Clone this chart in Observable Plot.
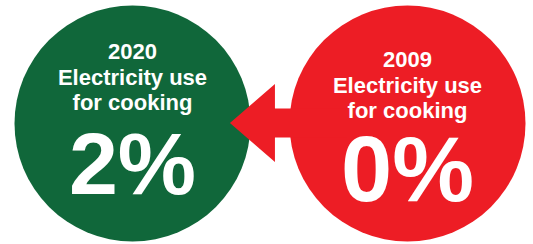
<!DOCTYPE html>
<html>
<head>
<meta charset="utf-8">
<script src="https://cdn.jsdelivr.net/npm/d3@7"></script>
<script src="https://cdn.jsdelivr.net/npm/@observablehq/plot@0.6"></script>
<style>
  html, body { margin: 0; padding: 0; background: #ffffff; }
  #chart svg { display: block; }
</style>
</head>
<body>
<div id="chart"></div>
<script>
// ---- data ----
const years = ["2020", "2009"];
const headlines = ["Electricity use", "for cooking"];
const shares = [2, 0];                 // % of households using electricity for cooking
const colors = ["#10673a", "#ed1d25"];

const rows = years.map((year, i) => ({
  year,
  header: [year, ...headlines].join("\n"),
  value: `${shares[i]}%`,
  color: colors[i]
}));

// ---- layout ----
const W = 533, H = 244, R = 118;
const font = "'Liberation Sans', Arial, Helvetica, sans-serif";
const headerDy = [-46, -38];
const valueDy = [43, 49];
const valueSize = [88, 92];

// arrow from the 2009 circle towards the 2020 circle
function arrowMark(index, scales, values, dims) {
  const x0 = scales.x(years[0]);
  const x1 = scales.x(years[1]);
  const cy = dims.height / 2 + 1;
  const tip = x0 + R * 0.83;
  const back = tip + 45;
  const end = x1 - 60;
  const hh = 39, sh = 14.5;
  const d = `M${tip},${cy} L${back},${cy - hh} L${back},${cy - sh} L${end},${cy - sh} L${end},${cy + sh} L${back},${cy + sh} L${back},${cy + hh} Z`;
  return d3.create("svg:path").attr("d", d).attr("fill", colors[1]).node();
}

const marks = [
  Plot.dot(rows, {x: "year", dy: 1, r: R, fill: "color", stroke: null}),
  arrowMark
];
rows.forEach((row, i) => {
  marks.push(Plot.text([row], {
    x: "year", text: "header", fill: "white", fontSize: 22, fontWeight: "bold",
    lineHeight: 1.16, dy: headerDy[i], textAnchor: "middle"
  }));
  marks.push(Plot.text([row], {
    x: "year", text: "value", fill: "white", fontSize: valueSize[i], fontWeight: "bold",
    dy: valueDy[i], textAnchor: "middle"
  }));
});

const chart = Plot.plot({
  width: W,
  height: H,
  margin: 0,
  style: {background: "#ffffff", fontFamily: font},
  x: {type: "point", domain: years, range: [132, 407], padding: 0, axis: null},
  color: {type: "identity"},
  marks
});
document.getElementById("chart").appendChild(chart);
</script>
</body>
</html>
